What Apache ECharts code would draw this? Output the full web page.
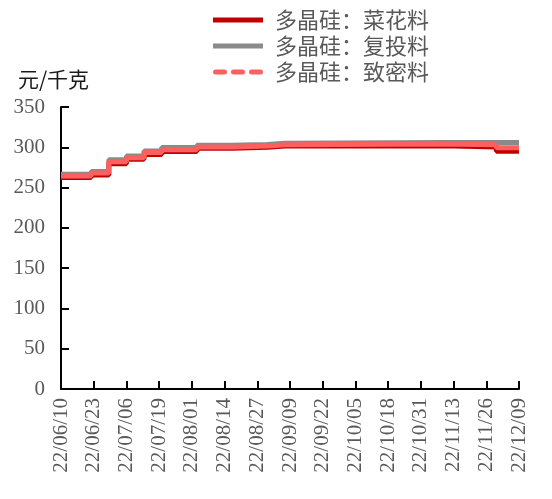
<!DOCTYPE html>
<html>
<head>
<meta charset="utf-8">
<script src="https://cdn.jsdelivr.net/npm/echarts@6/dist/echarts.min.js"></script>
<style>
  html, body { margin: 0; padding: 0; background: #ffffff; }
  #chart { width: 552px; height: 499px; }
</style>
</head>
<body>
<div id="chart"></div>
<script>
// Daily axis: 2022-06-10 .. 2022-12-09
const firstDay = new Date(Date.UTC(2022, 5, 10));
const dayCount = 183;

// Weekly price quotes (元/千克), carried forward until the next quote
const quoteDates = ['22/06/10', '22/06/22', '22/06/29', '22/07/06', '22/07/13', '22/07/20',
                    '22/08/03', '22/08/17', '22/08/31', '22/09/07', '22/11/09', '22/11/30', '22/12/09'];
const cauliflower = [262.5, 265.5, 279.5, 285.0, 291.0, 294.7, 298.8, 300.0, 301.7, 302.0, 300.5, 295.0, 295.0];
const recharge    = [266.5, 270.0, 284.5, 289.3, 295.5, 299.7, 302.5, 303.5, 305.0, 306.0, 306.0, 306.0, 306.0];
const dense       = [264.5, 268.0, 282.0, 287.0, 293.5, 297.0, 300.5, 301.5, 303.0, 304.0, 303.0, 299.5, 299.5];

const seriesNames = ['多晶硅：菜花料', '多晶硅：复投料', '多晶硅：致密料'];
const seriesColors = ['#C00000', '#8A8A8A', '#FF5F5F'];
const unitName = '元/千克';

function pad(n) { return (n < 10 ? '0' : '') + n; }
const days = [];
for (let i = 0; i < dayCount; i++) {
  const d = new Date(firstDay.getTime() + i * 86400000);
  days.push(pad(d.getUTCFullYear() % 100) + '/' + pad(d.getUTCMonth() + 1) + '/' + pad(d.getUTCDate()));
}

function pairs(values) {
  return quoteDates.map((d, i) => [d, values[i]]);
}

const serifFont = '"Liberation Serif", "Times New Roman", serif';
const cjkFont = '"Noto Sans CJK SC", sans-serif';

// legend swatches: a solid bar, and three short rounded dashes
const solidIcon = 'path://M0,0H50V5H0Z';
const dashIcon = 'path://M2.5,0H11.5A2.5,2.5 0 0 1 11.5,5H2.5A2.5,2.5 0 0 1 2.5,0Z' +
                 'M20.5,0H29.5A2.5,2.5 0 0 1 29.5,5H20.5A2.5,2.5 0 0 1 20.5,0Z' +
                 'M38.5,0H47.5A2.5,2.5 0 0 1 47.5,5H38.5A2.5,2.5 0 0 1 38.5,0Z';

function lineSeries(idx, values) {
  return {
    name: seriesNames[idx],
    type: 'line',
    step: 'end',
    data: pairs(values),
    symbol: 'none',
    animation: false,
    lineStyle: { color: seriesColors[idx], width: 5 },
    itemStyle: { color: seriesColors[idx] }
  };
}

const chart = echarts.init(document.getElementById('chart'), null, { renderer: 'canvas' });
chart.setOption({
  animation: false,
  backgroundColor: '#ffffff',
  legend: {
    orient: 'vertical',
    left: 213,
    top: 9,
    padding: 0,
    itemWidth: 50,
    itemHeight: 5,
    itemGap: 4,
    textStyle: { fontFamily: cjkFont, fontSize: 22, color: '#595959', padding: [0, 0, 0, 7] },
    data: [
      { name: seriesNames[0], icon: solidIcon },
      { name: seriesNames[1], icon: solidIcon },
      { name: seriesNames[2], icon: dashIcon }
    ]
  },
  grid: { left: 61, right: 33, top: 107, bottom: 110, containLabel: false },
  xAxis: {
    type: 'category',
    data: days,
    boundaryGap: false,
    axisLine: { lineStyle: { color: '#000000', width: 2 } },
    axisTick: { inside: true, length: 8, interval: 12, lineStyle: { color: '#000000', width: 2 } },
    axisLabel: {
      interval: 12,
      rotate: 90,
      margin: 9,
      fontFamily: serifFont,
      fontSize: 21,
      color: '#595959'
    },
    splitLine: { show: false }
  },
  yAxis: {
    type: 'value',
    min: 0,
    max: 350,
    interval: 50,
    name: unitName,
    nameLocation: 'end',
    nameGap: 17,
    nameTextStyle: { fontFamily: cjkFont, fontSize: 21, color: '#1a1a1a', padding: [0, 15, 0, 0] },
    axisLine: { show: true, lineStyle: { color: '#000000', width: 2 } },
    axisTick: { show: true, inside: true, length: 8, lineStyle: { color: '#000000', width: 2 } },
    axisLabel: { margin: 16, fontFamily: serifFont, fontSize: 21, color: '#595959' },
    splitLine: { show: false }
  },
  series: [
    lineSeries(0, cauliflower),
    lineSeries(1, recharge),
    lineSeries(2, dense)
  ]
});
</script>
</body>
</html>
